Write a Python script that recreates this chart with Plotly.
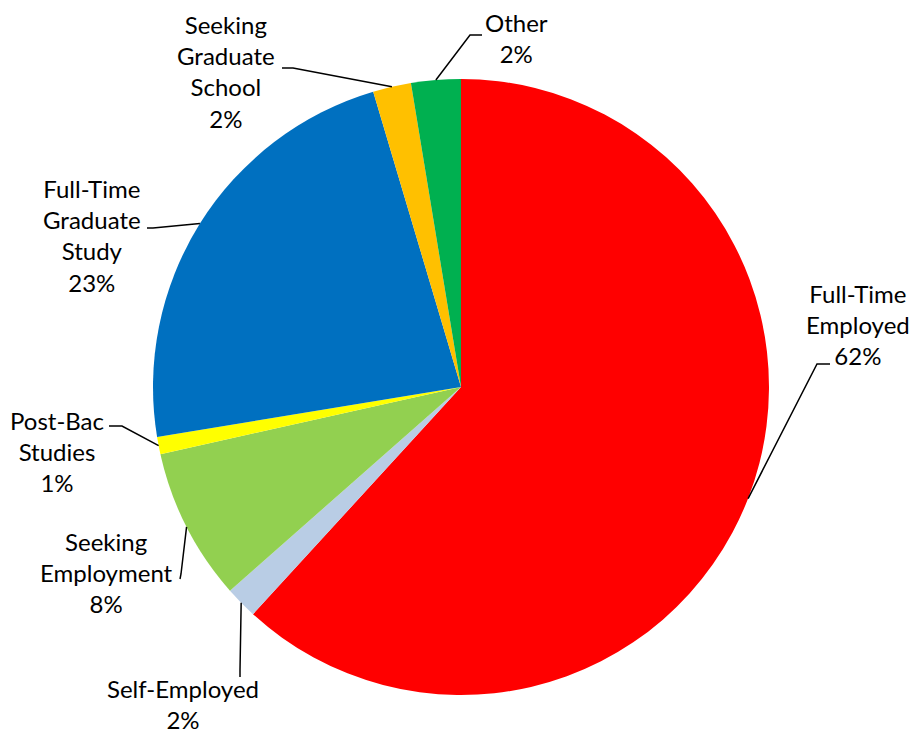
import math
import plotly.graph_objects as go

categories = ["Full-Time<br>Employed", "Self-Employed", "Seeking<br>Employment",
              "Post-Bac<br>Studies", "Full-Time<br>Graduate<br>Study",
              "Seeking<br>Graduate<br>School", "Other"]
values = [61.8, 1.7, 8.0, 0.9, 23.0, 2.0, 2.6]
pct_labels = ["62%", "2%", "8%", "1%", "23%", "2%", "2%"]
colors = ["#FF0000", "#B9CDE5", "#92D050", "#FFFF00", "#0070C0", "#FFC000", "#00B050"]

# layout (pixel) positions: label centres, leader-line start (at label) and elbow
label_pos = [(858, 324), (183, 704), (106, 572), (57, 451), (92, 236), (226, 71), (516, 38)]
leader_start = [(830, 364), (240, 677), (180, 579), (109, 426), (147, 228), (282, 68), (482, 35)]
leader_elbow = [(817, 364), (240, 670), (181, 574), (122, 426), (153, 228), (293, 68), (470, 35)]

W, H = 913, 734
cx, cy, R = 461, 387, 308


def to_paper(x, y):
    return x / W, 1 - y / H


fig = go.Figure(go.Pie(
    labels=[c.replace("<br>", " ") for c in categories],
    values=values,
    marker=dict(colors=colors, line=dict(width=0)),
    sort=False, direction="clockwise", rotation=0,
    textinfo="none", hoverinfo="label+percent",
    domain=dict(x=[(cx - R) / W, (cx + R) / W], y=[(H - cy - R) / H, (H - cy + R) / H]),
    showlegend=False,
))

total = sum(values)
cum = 0
annotations = []
shapes = []
for cat, v, pct, (tx, ty), s, e in zip(categories, values, pct_labels, label_pos,
                                        leader_start, leader_elbow):
    mid = (cum + v / 2) / total * 2 * math.pi
    cum += v
    px = cx + R * math.sin(mid)
    py = cy - R * math.cos(mid)
    ax_, ay_ = to_paper(*label_pos[categories.index(cat)])
    annotations.append(dict(
        x=ax_, y=ay_, xref="paper", yref="paper", xanchor="center", yanchor="middle",
        text=f"{cat}<br>{pct}", showarrow=False,
        font=dict(family="Lato, Open Sans, sans-serif", size=24, color="black"),
        align="center",
    ))
    p0 = to_paper(*s)
    p1 = to_paper(*e)
    p2 = to_paper(px, py)
    shapes.append(dict(
        type="path", xref="paper", yref="paper",
        path=f"M {p0[0]} {p0[1]} L {p1[0]} {p1[1]} L {p2[0]} {p2[1]}",
        line=dict(color="black", width=1.5),
    ))

fig.update_layout(
    width=W, height=H, margin=dict(l=0, r=0, t=0, b=0),
    paper_bgcolor="white", plot_bgcolor="white",
    annotations=annotations, shapes=shapes,
)
fig.write_html("out.html", config={"displayModeBar": False},
               post_script="document.body.style.margin='0';document.body.style.overflow='hidden';")
